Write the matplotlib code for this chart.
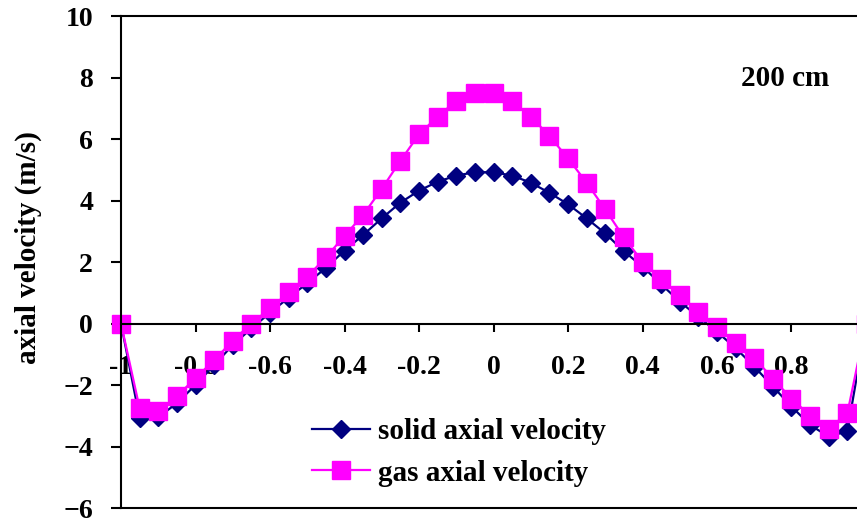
import numpy as np
from matplotlib import pyplot as plt

# radial position r/R
r = np.round(np.arange(-1.0, 1.0001, 0.05), 2)

solid = [0.0, -3.08, -3.05, -2.59, -2.0, -1.35, -0.7, -0.16, 0.35, 0.84,
         1.31, 1.81, 2.37, 2.88, 3.42, 3.93, 4.32, 4.61, 4.81, 4.92,
         4.92, 4.81, 4.58, 4.25, 3.88, 3.42, 2.93, 2.35, 1.85, 1.28,
         0.71, 0.22, -0.27, -0.8, -1.4, -2.05, -2.7, -3.3, -3.68, -3.5,
         0.0]
gas = [0.0, -2.76, -2.85, -2.36, -1.78, -1.19, -0.56, 0.0, 0.49, 1.01,
       1.52, 2.15, 2.85, 3.53, 4.38, 5.29, 6.15, 6.73, 7.24, 7.5,
       7.5, 7.24, 6.73, 6.1, 5.37, 4.58, 3.71, 2.8, 2.01, 1.46,
       0.92, 0.38, -0.12, -0.64, -1.11, -1.8, -2.44, -3.0, -3.42, -2.92,
       0.0]

xticks = [-1, -0.8, -0.6, -0.4, -0.2, 0, 0.2, 0.4, 0.6, 0.8, 1]
xlabels = ['-1', '-0.8', '-0.6', '-0.4', '-0.2', '0', '0.2', '0.4', '0.6', '0.8', '1']
yticks = [-6, -4, -2, 0, 2, 4, 6, 8, 10]

plt.rcParams['font.family'] = ['Liberation Serif', 'DejaVu Serif']
plt.rcParams['font.weight'] = 'bold'

fig = plt.figure(figsize=(8.57, 5.18), dpi=100)
ax = fig.add_axes([0.1412, 0.0193, 0.8693, 0.9498])

# tick labels stay drawn over the curves
ax.plot(r, solid, color='#000080', marker='D', markersize=9, linewidth=1.6,
        label='solid axial velocity', zorder=2, clip_on=False)
ax.plot(r, gas, color='#FF00FF', marker='s', markersize=12.5, linewidth=1.6,
        label='gas axial velocity', zorder=2, clip_on=False)

ax.set_xlim(-1, 1)
ax.set_ylim(-6, 10)

# x axis sits on the zero line, frame kept at the bottom
ax.spines['bottom'].set_position(('data', 0))
ax.axhline(-6, color='black', linewidth=1.5, clip_on=False)
for s in ax.spines.values():
    s.set_linewidth(1.5)

ax.set_xticks(xticks)
ax.set_xticklabels(xlabels)
ax.set_yticks(yticks)
ax.tick_params(axis='x', direction='out', length=6, width=1.5, pad=17, labelsize=20)
ax.tick_params(axis='y', direction='out', length=7, width=1.5, pad=13, labelsize=20)

ax.set_ylabel('axial velocity (m/s)', fontsize=21, fontweight='bold')
ax.yaxis.set_label_coords(-0.106, 0.53)

fig.text(0.916, 0.849, '200 cm', fontsize=21, fontweight='bold', ha='center', va='center')

fig.legend(loc='center left', bbox_to_anchor=(0.347, 0.127), frameon=False,
           borderpad=0, handlelength=2.0, handletextpad=0.25,
           labelspacing=0.5, prop={'weight': 'bold', 'size': 21})

fig.savefig('out.png', dpi=100)
